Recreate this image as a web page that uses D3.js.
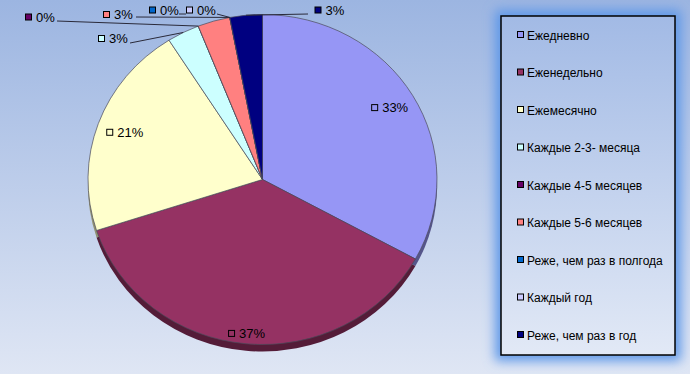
<!DOCTYPE html>
<html>
<head>
<meta charset="utf-8">
<script src="https://cdn.jsdelivr.net/npm/d3@7"></script>
<style>
  body { margin: 0; }
  #chart { width: 690px; height: 374px; }
  text { font-family: "Liberation Sans", Arial, sans-serif; }
</style>
</head>
<body>
<div id="chart"></div>
<script>
// data
var categories = ["Ежедневно", "Еженедельно", "Ежемесячно", "Каждые 2-3- месяца",
  "Каждые 4-5 месяцев", "Каждые 5-6 месяцев", "Реже, чем раз в полгода",
  "Каждый год", "Реже, чем раз в год"];
var values = [33, 37, 21, 3, 0, 3, 0, 0, 3];
var colors = ["#9696F5", "#953263", "#FFFFCC", "#CCFFFF", "#660066",
  "#FF8080", "#0066CC", "#CCCCFF", "#000080"];

var width = 690, height = 374;
var cx = 262.5, cy = 179.5, rx = 174.5, ry = 165, depth = 7;
var ky = ry / rx;

var svg = d3.select("#chart").append("svg")
  .attr("width", width).attr("height", height);

var defs = svg.append("defs");
var bg = defs.append("linearGradient").attr("id", "bg")
  .attr("x1", 0).attr("y1", 0).attr("x2", 0).attr("y2", 1);
bg.append("stop").attr("offset", "0%").attr("stop-color", "#9CB5E1");
bg.append("stop").attr("offset", "100%").attr("stop-color", "#DFE6F4");

var lg = defs.append("linearGradient").attr("id", "lg")
  .attr("x1", 0).attr("y1", 0).attr("x2", 0).attr("y2", 1);
lg.append("stop").attr("offset", "0%").attr("stop-color", "#A2BAE5");
lg.append("stop").attr("offset", "100%").attr("stop-color", "#E2E9F6");

var glow = defs.append("filter").attr("id", "glow")
  .attr("x", "-20%").attr("y", "-20%").attr("width", "140%").attr("height", "140%");
glow.append("feGaussianBlur").attr("stdDeviation", 6);

svg.append("rect").attr("width", width).attr("height", height).attr("fill", "url(#bg)");

// pie
var pie = d3.pie().sort(null).value(function(d) { return d; });
var arcs = pie(values);
var arc = d3.arc().innerRadius(0).outerRadius(rx);

// 3d side
svg.append("g")
  .attr("transform", "translate(" + cx + "," + (cy + depth) + ") scale(1," + ky + ")")
  .selectAll("path")
  .data(arcs)
  .enter().append("path")
    .attr("d", arc)
    .attr("fill", function(d, i) { return d3.color(colors[i]).darker(1.6); })
    .attr("stroke", "none");

svg.append("g")
  .attr("transform", "translate(" + cx + "," + cy + ") scale(1," + ky + ")")
  .selectAll("path")
  .data(arcs)
  .enter().append("path")
    .attr("d", arc)
    .attr("fill", function(d, i) { return colors[i]; })
    .attr("stroke", "#4a4a5a")
    .attr("stroke-width", 0.7)
    .attr("vector-effect", "non-scaling-stroke");

function edgePoint(angle, r) {
  return [cx + r * Math.sin(angle), cy - r * ky * Math.cos(angle)];
}

function drawLabel(g, mx, my, i) {
  g.append("rect")
    .attr("x", mx + 0.5).attr("y", my + 0.5)
    .attr("width", 6).attr("height", 6)
    .attr("fill", colors[i]).attr("stroke", "#000").attr("stroke-width", 1);
  g.append("text")
    .attr("x", mx + 11).attr("y", my + 8)
    .attr("font-size", 13)
    .attr("fill", "#000")
    .text(values[i] + "%");
}

var labels = svg.append("g");

// labels inside the big slices
var insideR = {0: 0.85, 1: 0.94, 2: 0.836};
Object.keys(insideR).forEach(function(k) {
  var a = arcs[k];
  var p = edgePoint((a.startAngle + a.endAngle) / 2, rx * insideR[k]);
  drawLabel(labels, p[0] - 19, p[1] - 4, +k);
});

// labels outside for small slices, with leader lines
var outside = [
  { i: 3, mx: 98, my: 35, lx: 130, ly: 43, at: "mid" },
  { i: 4, mx: 25, my: 13.5, lx: 57, ly: 21, at: "mid" },
  { i: 5, mx: 103, my: 11, lx: 136, ly: 17, at: "end" },
  { i: 6, mx: 149, my: 6.5, lx: 179, ly: 14, to: [186, 14] },
  { i: 7, mx: 186, my: 6.5, lx: 217, ly: 14, at: "mid" },
  { i: 8, mx: 314.5, my: 6.5, lx: 308, ly: 14, at: "mid" }
];

outside.forEach(function(o) {
  var a = arcs[o.i];
  var end = o.to;
  if (!end) {
    var ang = o.at == "end" ? a.endAngle : (a.startAngle + a.endAngle) / 2;
    end = edgePoint(ang, rx);
  }
  labels.append("line")
    .attr("x1", o.lx).attr("y1", o.ly)
    .attr("x2", end[0]).attr("y2", end[1])
    .attr("stroke", "#2a2a3a").attr("stroke-width", 1);
  drawLabel(labels, o.mx, o.my, o.i);
});

// legend
var lx = 501, ly = 16, lw = 174, lh = 339;
svg.append("rect")
  .attr("x", lx - 6).attr("y", ly - 6).attr("width", lw + 12).attr("height", lh + 12)
  .attr("fill", "#5F98E8").attr("filter", "url(#glow)");
svg.append("rect")
  .attr("x", lx).attr("y", ly).attr("width", lw).attr("height", lh)
  .attr("fill", "url(#lg)").attr("stroke", "#000").attr("stroke-width", 1.5);

var legendY = d3.scalePoint()
  .domain(categories)
  .range([35, 335]);

var item = svg.append("g").selectAll("g")
  .data(categories)
  .enter().append("g")
    .attr("transform", function(d) { return "translate(517," + legendY(d) + ")"; });

item.append("rect")
  .attr("x", 0.5).attr("y", -3.5).attr("width", 6).attr("height", 6)
  .attr("fill", function(d, i) { return colors[i]; })
  .attr("stroke", "#000").attr("stroke-width", 1);

item.append("text")
  .attr("x", 10).attr("y", 4.5)
  .attr("font-size", 12)
  .attr("fill", "#000")
  .text(function(d) { return d; });
</script>
</body>
</html>
